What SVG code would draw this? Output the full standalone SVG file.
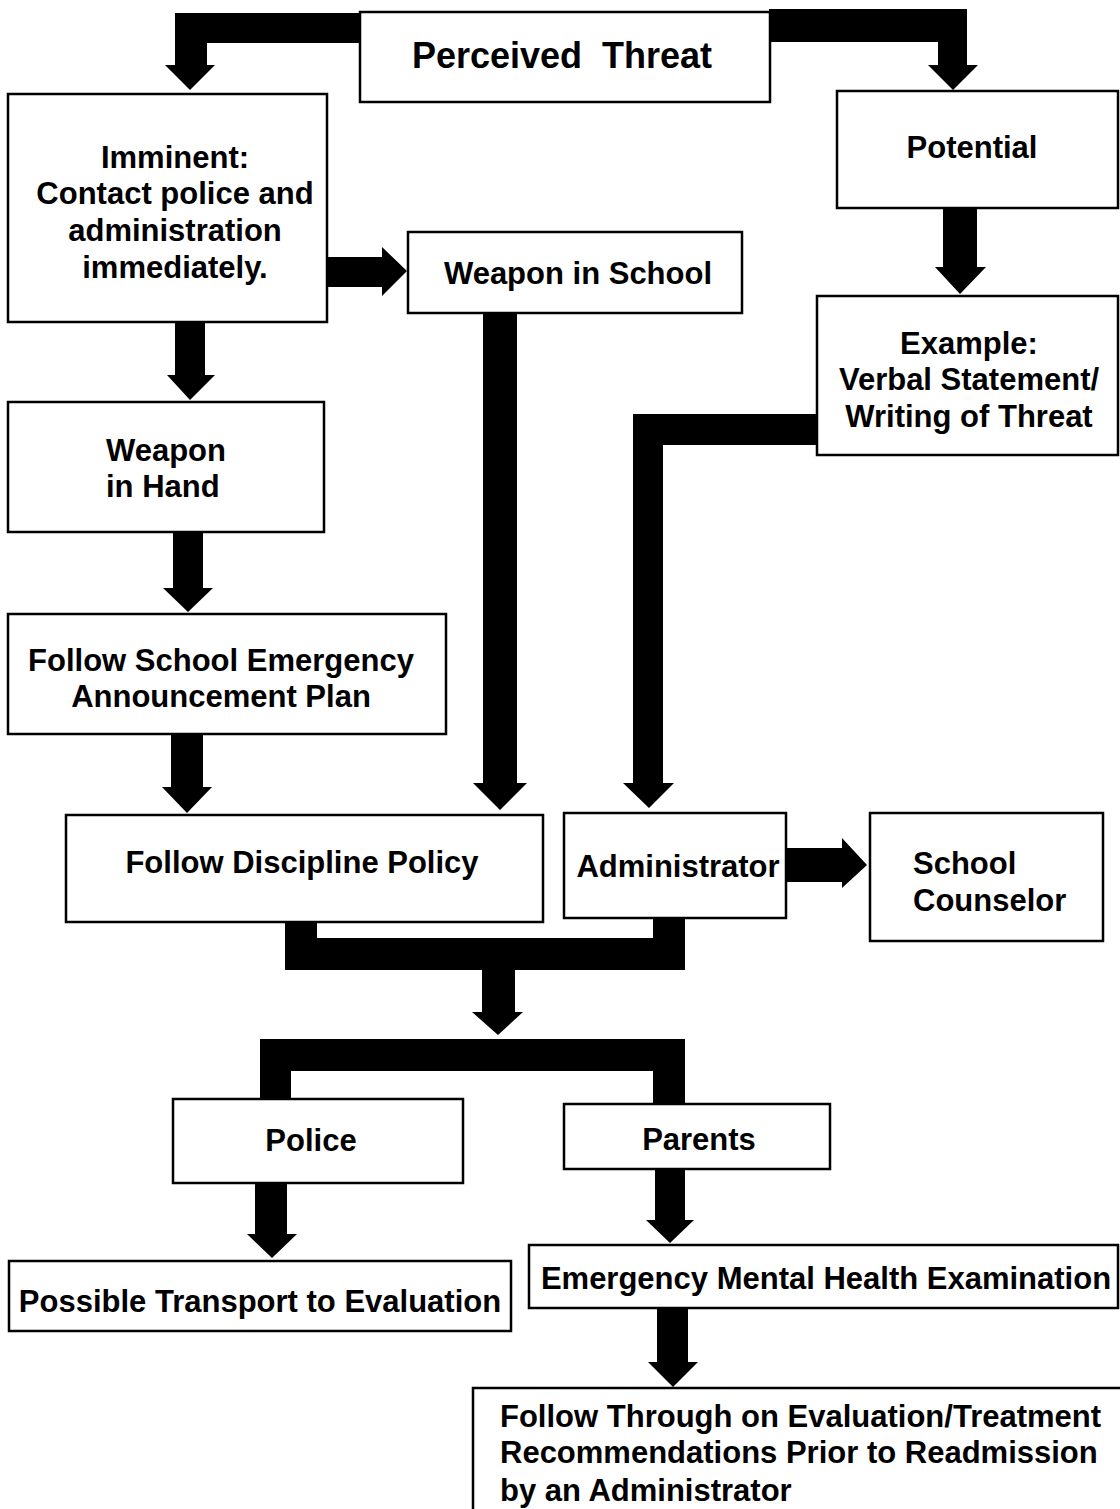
<svg xmlns="http://www.w3.org/2000/svg" width="1120" height="1509" viewBox="0 0 1120 1509">
  <style>
    .box { fill: #ffffff; stroke: #000000; stroke-width: 2.5; }
    .lbl { font-family: "Liberation Sans", Arial, sans-serif; font-weight: bold; font-size: 31px; fill: #000000; }
    .mid { text-anchor: middle; }
    .conn { fill: #000000; stroke: none; }
  </style>
  <rect width="1120" height="1509" fill="#ffffff"/>

  <!-- thick block arrows -->
  <g id="connectors">
    <polygon class="conn" points="361,13 175,13 175,65 165,65 190,90 215,65 207,65 207,43 361,43"/>
    <polygon class="conn" points="769,9 967,9 967,65 978,65 953,90 928,65 938,65 938,42 769,42"/>
    <polygon class="conn" points="328,257 382,257 382,247 407,271 382,296 382,287 328,287"/>
    <polygon class="conn" points="483,313 517,313 517,783 527,783 500,810 473,783 483,783"/>
    <polygon class="conn" points="818,414 633,414 633,783 623,783 649,808 674,783 663,783 663,445 818,445"/>
    <polygon class="conn" points="943,207 977,207 977,267 986,267 960,294 935,267 943,267"/>
    <polygon class="conn" points="175,322 205,322 205,375 215,375 190,400 167,375 175,375"/>
    <polygon class="conn" points="173,532 203,532 203,588 213,588 188,612 163,588 173,588"/>
    <polygon class="conn" points="171,734 203,734 203,787 212,787 187,813 162,787 171,787"/>
    <polygon class="conn" points="787,848 842,848 842,838 867,865 842,888 842,882 787,882"/>
    <polygon class="conn" points="285,922 317,922 317,938 653,938 653,918 685,918 685,970 515,970 515,1012 523,1012 498,1035 472,1012 482,1012 482,970 285,970"/>
    <polygon class="conn" points="260,1099 260,1039 685,1039 685,1104 653,1104 653,1071 291,1071 291,1099"/>
    <polygon class="conn" points="255,1183 287,1183 287,1234 297,1234 272,1258 247,1234 255,1234"/>
    <polygon class="conn" points="655,1168 685,1168 685,1220 694,1220 670,1243 646,1220 655,1220"/>
    <polygon class="conn" points="657,1308 688,1308 688,1362 698,1362 673,1387 648,1362 657,1362"/>
  </g>

  <g id="perceived-threat">
    <rect class="box" x="360" y="12" width="410" height="90"/>
    <text class="lbl mid" x="562" y="68" style="font-size:36px" xml:space="preserve">Perceived  Threat</text>
  </g>

  <g id="imminent">
    <rect class="box" x="8" y="94" width="319" height="228"/>
    <text class="lbl mid" x="175" y="168">Imminent:</text>
    <text class="lbl mid" x="175" y="204">Contact police and</text>
    <text class="lbl mid" x="175" y="241">administration</text>
    <text class="lbl mid" x="175" y="278">immediately.</text>
  </g>

  <g id="potential">
    <rect class="box" x="837" y="91" width="281" height="117"/>
    <text class="lbl mid" x="972" y="158">Potential</text>
  </g>

  <g id="weapon-in-school">
    <rect class="box" x="408" y="232" width="334" height="81"/>
    <text class="lbl mid" x="578" y="284">Weapon in School</text>
  </g>

  <g id="example">
    <rect class="box" x="817" y="296" width="301" height="159"/>
    <text class="lbl mid" x="969" y="354">Example:</text>
    <text class="lbl mid" x="969" y="390">Verbal Statement/</text>
    <text class="lbl mid" x="969" y="427">Writing of Threat</text>
  </g>

  <g id="weapon-in-hand">
    <rect class="box" x="8" y="402" width="316" height="130"/>
    <text class="lbl" x="106" y="461">Weapon</text>
    <text class="lbl" x="106" y="497">in Hand</text>
  </g>

  <g id="emergency-announcement">
    <rect class="box" x="8" y="614" width="438" height="120"/>
    <text class="lbl mid" x="221" y="671">Follow School Emergency</text>
    <text class="lbl mid" x="221" y="707">Announcement Plan</text>
  </g>

  <g id="discipline-policy">
    <rect class="box" x="66" y="815" width="477" height="107"/>
    <text class="lbl mid" x="302" y="873">Follow Discipline Policy</text>
  </g>

  <g id="administrator">
    <rect class="box" x="564" y="813" width="222" height="105"/>
    <text class="lbl mid" x="678" y="877">Administrator</text>
  </g>

  <g id="school-counselor">
    <rect class="box" x="870" y="813" width="233" height="128"/>
    <text class="lbl" x="913" y="874">School</text>
    <text class="lbl" x="913" y="911">Counselor</text>
  </g>

  <g id="police">
    <rect class="box" x="173" y="1099" width="290" height="84"/>
    <text class="lbl mid" x="311" y="1151">Police</text>
  </g>

  <g id="parents">
    <rect class="box" x="564" y="1104" width="266" height="65"/>
    <text class="lbl mid" x="699" y="1150">Parents</text>
  </g>

  <g id="transport">
    <rect class="box" x="9" y="1261" width="502" height="70"/>
    <text class="lbl mid" x="260" y="1312">Possible Transport to Evaluation</text>
  </g>

  <g id="mental-health-exam">
    <rect class="box" x="529" y="1245" width="589" height="63"/>
    <text class="lbl mid" x="826" y="1289">Emergency Mental Health Examination</text>
  </g>

  <g id="follow-through">
    <rect class="box" x="473" y="1388" width="660" height="140"/>
    <text class="lbl" x="500" y="1427">Follow Through on Evaluation/Treatment</text>
    <text class="lbl" x="500" y="1463">Recommendations Prior to Readmission</text>
    <text class="lbl" x="500" y="1501">by an Administrator</text>
  </g>
</svg>
